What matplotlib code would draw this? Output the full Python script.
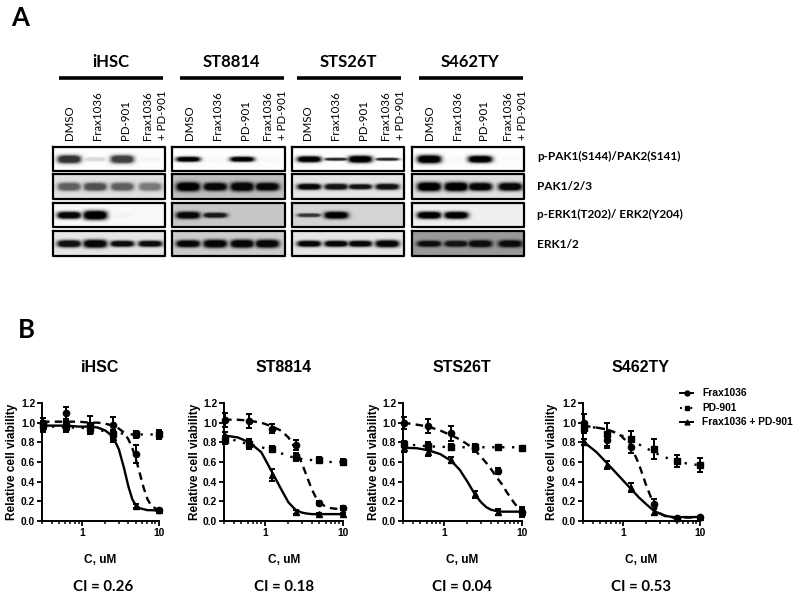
import numpy as np
import matplotlib
matplotlib.use("Agg")
import matplotlib.pyplot as plt
from matplotlib.lines import Line2D
from matplotlib.ticker import FixedLocator, NullFormatter

W, H = 800, 600

cell_lines = ["iHSC", "ST8814", "STS26T", "S462TY"]
ci_values = ["CI = 0.26", "CI = 0.18", "CI = 0.04", "CI = 0.53"]
lanes = ["DMSO", "Frax1036", "PD-901", "Frax1036\n+ PD-901"]
proteins = ["p-PAK1(S144)/PAK2(S141)", "PAK1/2/3", "p-ERK1(T202)/ ERK2(Y204)", "ERK1/2"]

# band darkness per blot row and lane, 0 = no band, 1 = black
bands_ihsc = [[.80, .15, .75, .04], [.62, .68, .62, .52], [.97, 1.0, .05, .01], [.93, .97, .95, .95]]
bands_st8814 = [[1.0, .03, 1.0, .03], [1.0, .97, .97, .97], [.97, .90, 0, 0], [.97, .97, .97, .97]]
bands_sts26t = [[1.0, .85, 1.0, .85], [.97, .92, .92, .92], [.80, 1.0, 0, 0], [.97, .97, .97, .97]]
bands_s462ty = [[1.0, .03, 1.0, .02], [1.0, 1.0, .97, .97], [1.0, 1.0, 0, 0], [.95, .92, .95, .95]]
bands = [bands_ihsc, bands_st8814, bands_sts26t, bands_s462ty]

# band half height in px per blot row and lane
heights_ihsc = [[4, 2, 4, 2], [4, 4, 4, 4], [3.5, 4.5, 2, 2], [3.5, 4, 3, 3]]
heights_st8814 = [[2.5, 2, 2.5, 2], [4.5, 4, 4.5, 4], [3.5, 2.5, 2, 2], [3.5, 4, 4, 4]]
heights_sts26t = [[3, 1.4, 3.5, 1.4], [3, 3, 2.6, 3], [1.8, 3.5, 2, 2], [3, 3, 3, 3.5]]
heights_s462ty = [[4, 2, 3.5, 2], [4.5, 4.5, 4, 4], [3.5, 3.5, 2, 2], [3, 3, 3.5, 3.5]]
band_heights = [heights_ihsc, heights_st8814, heights_sts26t, heights_s462ty]

# membrane background darkness per blot row
bg_ihsc = [.01, .12, .02, .10]
bg_st8814 = [.01, .25, .22, .20]
bg_sts26t = [.01, .10, .17, .10]
bg_s462ty = [.01, .12, .06, .40]
backgrounds = [bg_ihsc, bg_st8814, bg_sts26t, bg_s462ty]

# dose points
conc = [0.3125, 0.625, 1.25, 2.5, 5, 10]

frax_ihsc = [1.00, 1.10, 0.98, 0.98, 0.68, 0.11]
frax_ihsc_err = [.05, .06, .09, .08, .09, .01]
pd_ihsc = [0.98, 0.97, 0.95, 0.88, 0.88, 0.88]
pd_ihsc_err = [.07, .05, .05, .05, .04, .05]
combo_ihsc = [0.97, 0.96, 0.93, 0.85, 0.15, 0.11]
combo_ihsc_err = [.05, .05, .05, .05, .02, .01]

frax_st8814 = [1.03, 1.02, 0.94, 0.77, 0.18, 0.13]
frax_st8814_err = [.07, .07, .05, .05, .02, .02]
pd_st8814 = [0.82, 0.78, 0.73, 0.65, 0.62, 0.60]
pd_st8814_err = [.04, .04, .03, .04, .03, .03]
combo_st8814 = [0.86, 0.78, 0.47, 0.09, 0.07, 0.07]
combo_st8814_err = [.05, .05, .06, .02, .01, .01]

frax_sts26t = [1.00, 0.97, 0.89, 0.74, 0.51, 0.09]
frax_sts26t_err = [.06, .07, .08, .04, .03, .05]
pd_sts26t = [0.78, 0.76, 0.75, 0.75, 0.75, 0.745]
pd_sts26t_err = [.03, .04, .03, .03, .01, .01]
combo_sts26t = [0.74, 0.70, 0.62, 0.27, 0.09, 0.09]
combo_sts26t_err = [.04, .04, .03, .04, .03, .03]

frax_s462ty = [1.00, 0.82, 0.75, 0.17, 0.035, 0.04]
frax_s462ty_err = [.09, .08, .06, .05, .01, .01]
pd_s462ty = [0.95, 0.88, 0.83, 0.73, 0.61, 0.57]
pd_s462ty_err = [.06, .12, .09, .10, .06, .07]
combo_s462ty = [0.80, 0.57, 0.34, 0.09, 0.035, 0.04]
combo_s462ty_err = [.03, .04, .05, .03, .01, .01]

points = [
    (frax_ihsc, frax_ihsc_err, pd_ihsc, pd_ihsc_err, combo_ihsc, combo_ihsc_err),
    (frax_st8814, frax_st8814_err, pd_st8814, pd_st8814_err, combo_st8814, combo_st8814_err),
    (frax_sts26t, frax_sts26t_err, pd_sts26t, pd_sts26t_err, combo_sts26t, combo_sts26t_err),
    (frax_s462ty, frax_s462ty_err, pd_s462ty, pd_s462ty_err, combo_s462ty, combo_s462ty_err),
]

# fitted curves at these doses
curve_x = [0.3, 0.45, 0.63, 0.9, 1.25, 1.6, 2.0, 2.5, 3.0, 3.5, 4.0, 4.5, 5.0, 5.6, 6.3, 7.1, 8.0, 10]

curve_frax_ihsc = [1.01, 1.01, 1.01, 1.01, 1.00, 1.00, 0.99, 0.97, 0.94, 0.90, 0.83, 0.74, 0.63, 0.49, 0.34, 0.22, 0.15, 0.11]
curve_pd_ihsc = [0.96, 0.96, 0.95, 0.95, 0.94, 0.93, 0.91, 0.90, 0.89, 0.89, 0.88, 0.88, 0.88, 0.88, 0.88, 0.88, 0.88, 0.88]
curve_combo_ihsc = [0.97, 0.97, 0.97, 0.96, 0.96, 0.95, 0.92, 0.86, 0.73, 0.54, 0.35, 0.22, 0.16, 0.13, 0.12, 0.11, 0.11, 0.105]

curve_frax_st8814 = [1.03, 1.03, 1.02, 1.00, 0.96, 0.92, 0.85, 0.73, 0.58, 0.44, 0.32, 0.24, 0.19, 0.16, 0.14, 0.13, 0.125, 0.12]
curve_pd_st8814 = [0.86, 0.81, 0.78, 0.75, 0.72, 0.69, 0.66, 0.64, 0.63, 0.62, 0.62, 0.61, 0.61, 0.61, 0.60, 0.60, 0.60, 0.60]
curve_combo_st8814 = [0.87, 0.85, 0.80, 0.70, 0.49, 0.33, 0.19, 0.11, 0.085, 0.075, 0.07, 0.07, 0.07, 0.07, 0.07, 0.07, 0.07, 0.07]

curve_frax_sts26t = [1.00, 0.98, 0.96, 0.92, 0.87, 0.83, 0.78, 0.72, 0.65, 0.59, 0.53, 0.47, 0.42, 0.37, 0.30, 0.24, 0.18, 0.09]
curve_pd_sts26t = [0.78, 0.77, 0.76, 0.755, 0.75, 0.75, 0.75, 0.75, 0.75, 0.75, 0.75, 0.75, 0.75, 0.75, 0.75, 0.75, 0.75, 0.75]
curve_combo_sts26t = [0.745, 0.74, 0.72, 0.68, 0.61, 0.52, 0.40, 0.27, 0.19, 0.14, 0.115, 0.105, 0.10, 0.095, 0.095, 0.095, 0.095, 0.095]

curve_frax_s462ty = [0.97, 0.95, 0.93, 0.88, 0.77, 0.58, 0.36, 0.17, 0.08, 0.05, 0.04, 0.035, 0.035, 0.035, 0.035, 0.035, 0.035, 0.035]
curve_pd_s462ty = [0.96, 0.95, 0.93, 0.88, 0.82, 0.78, 0.74, 0.70, 0.67, 0.65, 0.63, 0.62, 0.61, 0.60, 0.59, 0.58, 0.575, 0.57]
curve_combo_s462ty = [0.81, 0.70, 0.58, 0.45, 0.33, 0.24, 0.17, 0.105, 0.075, 0.055, 0.045, 0.04, 0.04, 0.04, 0.04, 0.04, 0.04, 0.04]

curves = [
    (curve_frax_ihsc, curve_pd_ihsc, curve_combo_ihsc),
    (curve_frax_st8814, curve_pd_st8814, curve_combo_st8814),
    (curve_frax_sts26t, curve_pd_sts26t, curve_combo_sts26t),
    (curve_frax_s462ty, curve_pd_s462ty, curve_combo_s462ty),
]

# layout in picture pixels
blot_boxes = [(53, 165), (172, 285), (292, 404), (412, 524)]
blot_rows = [(147, 171), (174, 199), (203, 227), (231, 256)]
header_lines = [(59, 163), (180, 284), (297, 401), (419, 523)]
header_x = [111, 231, 348, 470]
band_x = [[69, 95, 122, 150], [188, 215, 242, 267], [309, 336, 360, 387], [429, 456, 480, 510]]
lane_x = [[69, 97, 125, 147], [189, 217, 245, 267], [308, 336, 364, 386], [429, 457, 484, 507]]
protein_y = [156, 187, 214, 245]
axes_left = [42, 224, 403, 583]
axes_right = [159, 343, 522, 700]
ylabel_x = [12, 195, 374, 552]
title_x = [100, 284, 462, 641]

fig = plt.figure(figsize=(W / 100, H / 100), dpi=100)
bg = fig.add_axes([0, 0, 1, 1])
bg.set_xlim(0, W)
bg.set_ylim(H, 0)
bg.axis("off")

UI_FONT = "Lato"
ARIAL = "Liberation Sans"

bg.text(11, 26, "A", fontsize=18.5, fontweight="bold", family=UI_FONT, va="baseline")
bg.text(18, 338, "B", fontsize=18.5, fontweight="bold", family=UI_FONT, va="baseline")

# western blots, one small image per box
for c, name in enumerate(cell_lines):
    x0, x1 = blot_boxes[c]
    bg.plot(header_lines[c], [78, 78], color="k", lw=2.6, solid_capstyle="butt")
    bg.text(header_x[c], 62, name, ha="center", va="center", fontsize=12, fontweight="bold", family=UI_FONT)

    for k in range(3):
        bg.text(lane_x[c][k], 140, lanes[k], rotation=90, ha="center", va="bottom", fontsize=8.3, family=UI_FONT)
    first, second = lanes[3].split("\n")
    bg.text(lane_x[c][3], 140, first, rotation=90, ha="center", va="bottom", fontsize=8.3, family=UI_FONT)
    bg.text(lane_x[c][3] + 15, 140, second, rotation=90, ha="center", va="bottom", fontsize=8.3, family=UI_FONT)

    for r, (y0, y1) in enumerate(blot_rows):
        xx, yy = np.meshgrid(np.arange(x0, x1, 0.5), np.arange(y0, y1, 0.5))
        ymid = (y0 + y1) / 2
        back = backgrounds[c][r]
        dark = np.full(xx.shape, back)
        for k, level in enumerate(bands[c][r]):
            if level <= 0:
                continue
            half_h = band_heights[c][r][k]
            half_w = 10.5 + 1.5 * level
            prof = np.exp(-((xx - band_x[c][k]) / half_w) ** 4) * np.exp(-np.abs((yy - ymid) / half_h) ** 2.5)
            dark = np.maximum(dark, back + (level - back) * np.minimum(1, 1.5 * prof))
        bg.imshow(1 - dark, cmap="gray", vmin=0, vmax=1, extent=(x0, x1, y1, y0), aspect="auto", interpolation="bilinear", zorder=1)
        bg.plot([x0, x1, x1, x0, x0], [y0, y0, y1, y1, y0], color="k", lw=1.6, zorder=2)

bg.set_xlim(0, W)
bg.set_ylim(H, 0)

for r, label in enumerate(proteins):
    bg.text(537, protein_y[r], label, va="center", fontsize=8.5, fontweight="bold", family=UI_FONT)

# dose response panels
styles = [("o", "--"), ("s", ":"), ("^", "-")]
for c, name in enumerate(cell_lines):
    left, right = axes_left[c], axes_right[c]
    ax = fig.add_axes([left / W, (H - 521) / H, (right - left) / W, (521 - 403) / H])
    ax.patch.set_alpha(0)
    ax.set_xscale("log")
    ax.set_xlim(0.3, 10)
    ax.set_ylim(0, 1.2)
    pts = points[c]
    for s, (marker, ls) in enumerate(styles):
        ax.plot(curve_x, curves[c][s], color="k", ls=ls, lw=1.7, clip_on=False,
                dashes=(3.2, 2.2) if ls == "--" else ((1, 3.2) if ls == ":" else (None, None)))
        ax.errorbar(conc, pts[2 * s], yerr=pts[2 * s + 1], fmt=marker, color="k", ms=4.5,
                    capsize=2.5, elinewidth=1.4, capthick=1.4, clip_on=False, zorder=3)
    for side in ("top", "right"):
        ax.spines[side].set_visible(False)
    for side in ("left", "bottom"):
        ax.spines[side].set_linewidth(1.4)
    ax.set_yticks([0, 0.2, 0.4, 0.6, 0.8, 1.0, 1.2])
    ax.set_yticklabels(["0.0", "0.2", "0.4", "0.6", "0.8", "1.0", "1.2"])
    ax.xaxis.set_major_locator(FixedLocator([1, 10]))
    ax.xaxis.set_minor_locator(FixedLocator([.3, .4, .5, .6, .7, .8, .9, 2, 3, 4, 5, 6, 7, 8, 9]))
    ax.xaxis.set_minor_formatter(NullFormatter())
    ax.set_xticklabels(["1", "10"])
    ax.tick_params(axis="both", which="major", length=3.5, width=1.3, pad=1.5, labelsize=7.4)
    ax.tick_params(axis="x", which="minor", length=2.5, width=1.1)
    for t in ax.get_xticklabels() + ax.get_yticklabels():
        t.set_fontweight("bold")
        t.set_family(ARIAL)

    bg.text(ylabel_x[c], 462, "Relative cell viability", rotation=90, ha="center", va="center",
            fontsize=8.5, fontweight="bold", family=ARIAL)
    bg.text(title_x[c], 368, name, ha="center", va="center", fontsize=11.5, fontweight="bold", family=ARIAL)
    bg.text(title_x[c], 560, "C, uM", ha="center", va="center", fontsize=8.6, fontweight="bold", family=ARIAL)
    bg.text(title_x[c] + (3 if c == 0 else 0), 587, ci_values[c], ha="center", va="center", fontsize=10.8, fontweight="bold", family=UI_FONT)

# legend
legend_labels = ["Frax1036", "PD-901", "Frax1036 + PD-901"]
legend_y = [393, 408, 422]
for s, (marker, ls) in enumerate(styles):
    bg.add_line(Line2D([680, 693], [legend_y[s]] * 2, color="k", lw=1.4, ls=ls if s == 1 else "-"))
    bg.add_line(Line2D([686.5], [legend_y[s]], marker=marker, color="k", ms=3.5))
    bg.text(702, legend_y[s], legend_labels[s], va="center", fontsize=7.4, fontweight="bold", family=ARIAL)

fig.savefig("out.png", dpi=100)
